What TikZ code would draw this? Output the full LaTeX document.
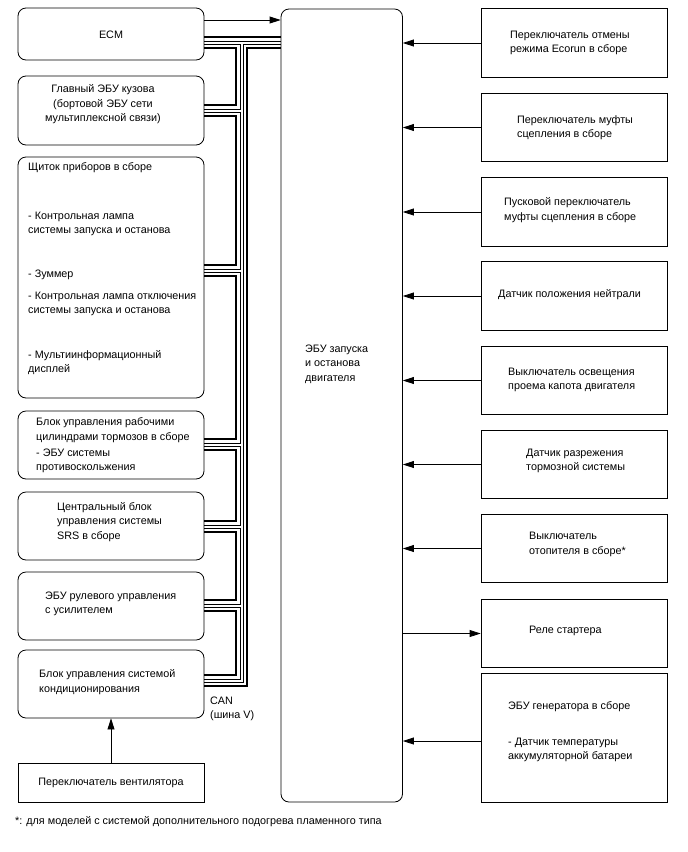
\documentclass[tikz,border=0pt]{standalone}
\usepackage{fontspec}
\setmainfont{Liberation Sans}
\usetikzlibrary{arrows.meta}
\begin{document}
\begin{tikzpicture}[x=1pt,y=-1pt,
  lbox/.style={draw, rounded corners=8pt, line width=0.8pt, inner sep=0, minimum width=186pt},
  rbox/.style={draw, line width=0.8pt, inner sep=0, minimum width=186pt},
  txt/.style={font=\fontsize{10.8}{14.5}\selectfont, align=left, anchor=west, inner sep=0},
  ctxt/.style={font=\fontsize{10.8}{14.5}\selectfont, align=center, inner sep=0},
  arr/.style={-{Triangle[length=11pt,width=7pt]}, line width=0.8pt},
  busthick/.style={line width=2.6pt},
  busthin/.style={line width=0.8pt}
]
\useasboundingbox (0,0) rectangle (688,852);

% left boxes
\node[lbox, minimum height=52pt] (ecm) at (111,34) {};
\node[lbox, minimum height=69pt] (glav) at (111,110.5) {};
\node[lbox, minimum height=241pt] (shch) at (111,277.5) {};
\node[lbox, minimum height=68pt] (brk) at (111,445) {};
\node[lbox, minimum height=68pt] (srs) at (111,526) {};
\node[lbox, minimum height=68pt] (eps) at (111,606) {};
\node[lbox, minimum height=68pt] (ac) at (111,684) {};
\node[rbox, minimum height=39pt] (fan) at (111,782.5) {};

% central ECU
\node[lbox, minimum width=121.5pt, minimum height=793pt] (ecu) at (341.75,405.5) {};

% right boxes
\node[rbox, minimum height=68.5pt] (r1) at (574,43) {};
\node[rbox, minimum height=68.5pt] (r2) at (574,127.5) {};
\node[rbox, minimum height=68.5pt] (r3) at (574,212) {};
\node[rbox, minimum height=68.5pt] (r4) at (574,296) {};
\node[rbox, minimum height=68.5pt] (r5) at (574,380.5) {};
\node[rbox, minimum height=68.5pt] (r6) at (574,464.5) {};
\node[rbox, minimum height=68.5pt] (r7) at (574,548.5) {};
\node[rbox, minimum height=68.5pt] (r8) at (574,633.5) {};
\node[rbox, minimum height=129pt] (r9) at (574,737.5) {};

% texts
\node[ctxt] (tecm) at (111,35) {ECM};
\node[ctxt] (tglav) at (103,104.5) {Главный ЭБУ кузова\\(бортовой ЭБУ сети\\мультиплексной связи)};
\node[txt] (ts1) at (28,168) {Щиток приборов в сборе};
\node[txt] (ts2) at (28,224) {- Контрольная лампа\\системы запуска и останова};
\node[txt] (ts3) at (28,275) {- Зуммер};
\node[txt] (ts4) at (28,304) {- Контрольная лампа отключения\\системы запуска и останова};
\node[txt] (ts5) at (28,362.5) {- Мультиинформационный\\дисплей};
\node[txt] (tb1) at (36,430) {Блок управления рабочими\\цилиндрами тормозов в сборе};
\node[txt] (tb2) at (36,461) {- ЭБУ системы\\противоскольжения};
\node[txt] (tsrs) at (57,522) {Центральный блок\\управления системы\\SRS в сборе};
\node[txt] (teps) at (45,604) {ЭБУ рулевого управления\\с усилителем};
\node[txt] (tac) at (39,682) {Блок управления системой\\кондиционирования};
\node[ctxt] (tfan) at (111,783) {Переключатель вентилятора};
\node[txt] (tecu) at (305,364) {ЭБУ запуска\\и останова\\двигателя};
\node[txt] (tcan) at (210,709) {CAN\\(шина V)};
\node[txt] (t1) at (510,43) {Переключатель отмены\\режима Ecorun в сборе};
\node[txt] (t2) at (517,127.5) {Переключатель муфты\\сцепления в сборе};
\node[txt] (t3) at (504,210) {Пусковой переключатель\\муфты сцепления в сборе};
\node[txt] (t4) at (498,295) {Датчик положения нейтрали};
\node[txt] (t5) at (508,380) {Выключатель освещения\\проема капота двигателя};
\node[txt] (t6) at (526,461) {Датчик разрежения\\тормозной системы};
\node[txt] (t7) at (529,544.5) {Выключатель\\отопителя в сборе*};
\node[txt] (t8) at (529,631) {Реле стартера};
\node[txt] (t9a) at (508,707) {ЭБУ генератора в сборе};
\node[txt] (t9b) at (508,750) {- Датчик температуры\\аккумуляторной батареи};
\node[txt] (fn) at (15,822) {*: для моделей с системой дополнительного подогрева пламенного типа};

% CAN bus
\draw[busthick] (ecm.east |- 0,37) -- (ecu.west |- 0,37);
\draw[busthin] (ecm.east |- 0,41) -- (ecu.west |- 0,41);
\draw[busthin] (ecm.east |- 0,44) -| (240,109) -- (glav.east |- 0,109);
\draw[busthick] (ecm.east |- 0,48) -| (236,105) -- (glav.east |- 0,105);
\draw[busthin] (ecu.west |- 0,44) -| (243,682) -- (ac.east |- 0,682);
\draw[busthick] (ecu.west |- 0,48) -| (247,686) -- (ac.east |- 0,686);
\foreach \p/\q/\u/\v in {glav/shch/105/265, shch/brk/265/439, brk/srs/439/521, srs/eps/521/600, eps/ac/600/675}{
  \draw[busthick] (\p.east |- 0,\u+11) -| (236,\v) -- (\q.east |- 0,\v);
  \draw[busthin] (\p.east |- 0,\u+7) -| (240,\v+4) -- (\q.east |- 0,\v+4);
}

% arrows
\draw[arr] (ecm.east |- 0,20) -- (ecu.west |- 0,20);
\foreach \r in {r1,r2,r3,r4,r5,r6,r7}{
  \draw[arr] (\r.west) -- (\r.west -| ecu.east);
}
\draw[arr] (r8.west -| ecu.east) -- (r8.west);
\draw[arr] (r9.west |- 0,741) -- (ecu.east |- 0,741);
\draw[arr] (fan.north) -- (ac.south);
\end{tikzpicture}
\end{document}
